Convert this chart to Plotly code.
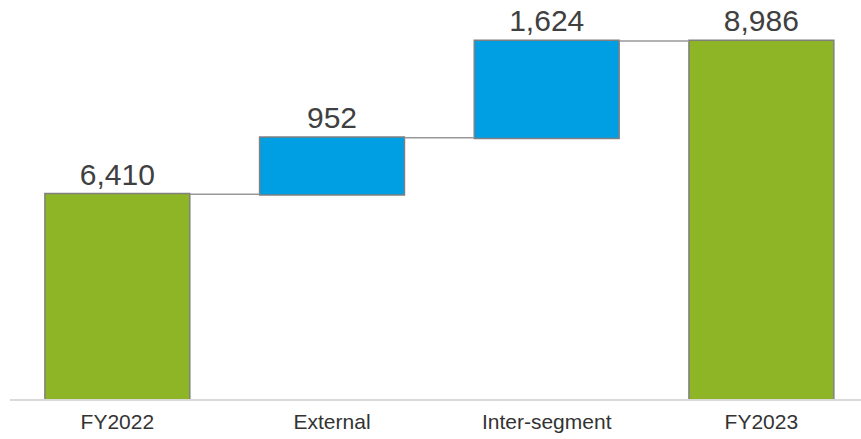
import plotly.graph_objects as go

categories = ["FY2022", "External", "Inter-segment", "FY2023"]
values = [6410, 952, 1624, 8986]
measures = ["absolute", "relative", "relative", "total"]
labels = ["6,410", "952", "1,624", "8,986"]

GREEN = "#8DB526"
BLUE = "#009FE3"
OUTLINE = "#808080"

fig = go.Figure(go.Waterfall(
    x=categories,
    y=values,
    measure=measures,
    text=labels,
    textposition="outside",
    textfont=dict(family="Liberation Sans, Arial, sans-serif", size=30, color="#404040"),
    cliponaxis=False,
    width=0.675,
    increasing=dict(marker=dict(color=BLUE, line=dict(color=OUTLINE, width=1.5))),
    decreasing=dict(marker=dict(color=BLUE, line=dict(color=OUTLINE, width=1.5))),
    totals=dict(marker=dict(color=GREEN, line=dict(color=OUTLINE, width=1.5))),
    connector=dict(mode="between", line=dict(color="#999999", width=1.5)),
    hoverinfo="skip",
))

fig.update_layout(
    width=861, height=439,
    margin=dict(l=10, r=0, t=0, b=40),
    paper_bgcolor="white",
    plot_bgcolor="white",
    showlegend=False,
    xaxis=dict(
        range=[-0.5, 3.464],
        showgrid=False, zeroline=False,
        showline=True, linecolor="#D9D9D9", linewidth=2,
        ticks="", ticklabelstandoff=3,
        tickfont=dict(family="Liberation Sans, Arial, sans-serif", size=21, color="#333333"),
    ),
    yaxis=dict(
        range=[2971, 9675],
        visible=False, showgrid=False, zeroline=False,
    ),
)

fig.write_html("out.html")
